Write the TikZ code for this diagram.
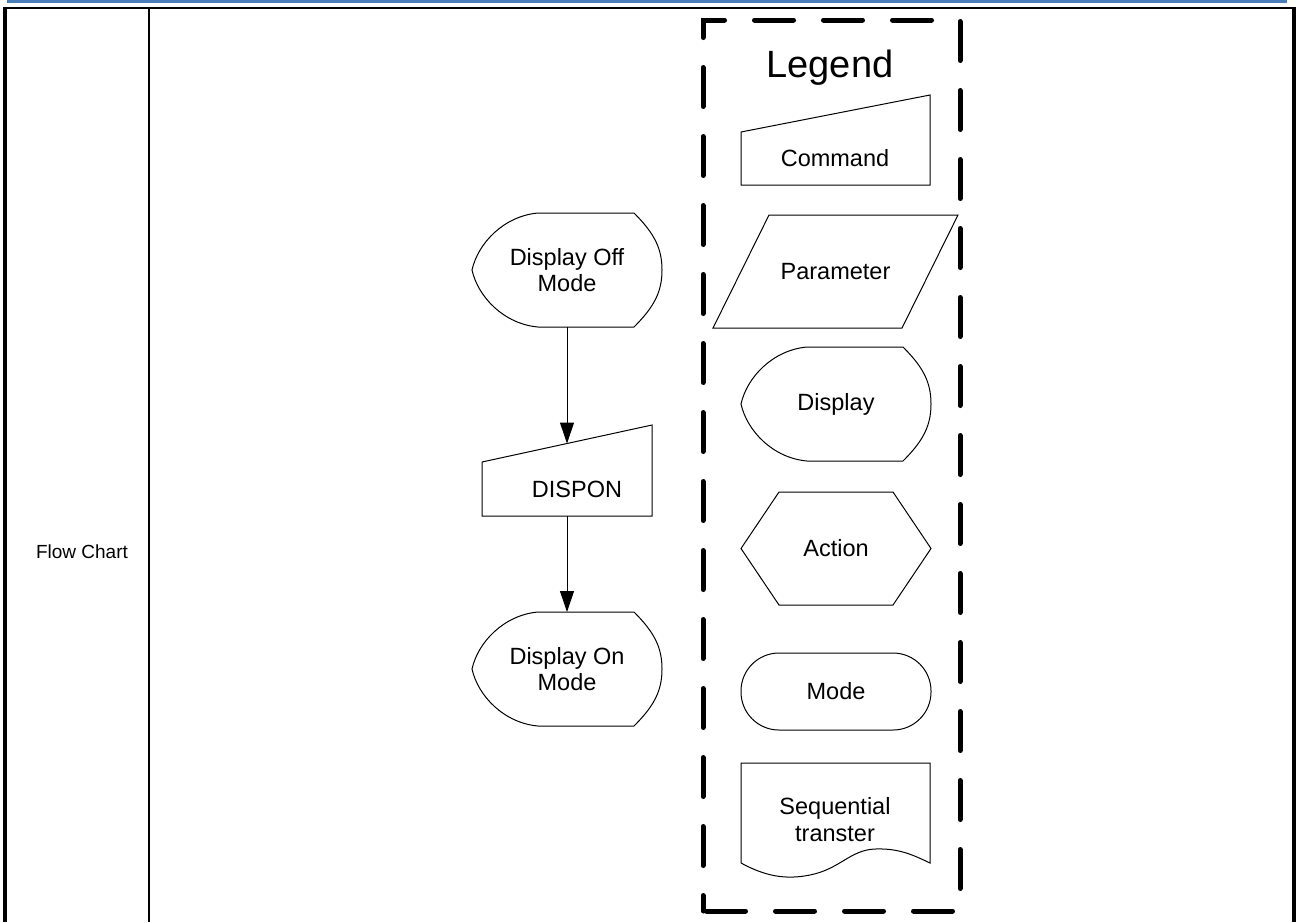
\documentclass[tikz,border=0pt]{standalone}
\usepackage{fontspec}
\setmainfont{Liberation Sans}
\usetikzlibrary{calc,arrows.meta}
\definecolor{hdrblue}{RGB}{74,126,187}
\tikzset{
  outl/.style={draw=black, line width=1pt, line join=miter},
  geo/.style={draw=none, inner sep=0pt, outer sep=0pt, minimum width=190pt,
              font=\fontsize{23.5}{26}\selectfont, align=center},
  lbl/.style={font=\fontsize{23.5}{27}\selectfont, align=center, inner sep=0pt},
  conn/.style={line width=1pt, -{Triangle[length=21pt,width=14pt]}},
  legendbox/.style={line width=5pt, line cap=round, dash pattern=on 39pt off 30pt, dash phase=23.5pt},
}
\newcommand\DispOutline[1]{%
  \draw[outl] ($(#1.north west)+(66,0)$) -- ($(#1.north east)+(-28,0)$)
    .. controls ($(#1.north east)+(-8,20)$) and ($(#1.east)+(0,-22)$) .. (#1.east)
    .. controls ($(#1.east)+(0,22)$) and ($(#1.south east)+(-8,-20)$) .. ($(#1.south east)+(-28,0)$)
    -- ($(#1.south west)+(66,0)$)
    .. controls ($(#1.south west)+(32,-3)$) and ($(#1.west)+(6,27)$) .. (#1.west)
    .. controls ($(#1.west)+(6,-27)$) and ($(#1.north west)+(32,3)$) .. cycle;}
\begin{document}
\begin{tikzpicture}[x=1pt,y=-1pt]
\useasboundingbox (0,0) rectangle (1297,922);
\fill[white] (0,0) rectangle (1297,922);

% header line and table
\draw[hdrblue, line width=2.7pt] (7,1.35) -- (1287,1.35);
\draw[line width=2pt] (3,8) -- (1296,8);
\draw[line width=4pt] (5,7) -- (5,922);
\draw[line width=2.3pt] (149,8) -- (149,922);
\draw[line width=4pt] (1294,7) -- (1294,922);
\node[font=\fontsize{19}{22}\selectfont, inner sep=0pt] (rowlabel) at (82,552) {Flow Chart};

% flow chart
\node[geo, minimum height=114pt] (off) at (567,270) {Display Off\\Mode};
\DispOutline{off}

\node[geo, minimum width=170pt, minimum height=91pt] (dispon) at (567,470.5) {};
\draw[outl] (dispon.south west) -- (dispon.south east) -- (dispon.north east)
  -- ($(dispon.north west)+(0,37)$) -- cycle;
\node[lbl, anchor=base] (dispontext) at (577,497) {DISPON};
\coordinate (disponin) at ($(dispon.north)+(0,18.5)$);

\node[geo, minimum height=114pt] (on) at (567,669) {Display On\\Mode};
\DispOutline{on}

\draw[conn] (off.south) -- (disponin);
\draw[conn] (dispon.south) -- (on.north);

% legend
\draw[legendbox] (703,911) -- (703,20) -- (960,20) -- (960,911) -- cycle;
\node[font=\fontsize{38}{44}\selectfont, anchor=base, inner sep=0pt] (legendtitle) at (830,77) {Legend};

\node[geo, minimum width=189pt, minimum height=90pt] (lcmd) at (835.5,140) {};
\draw[outl] (lcmd.south west) -- (lcmd.south east) -- (lcmd.north east)
  -- ($(lcmd.north west)+(0,37)$) -- cycle;
\node[lbl, anchor=base] (lcmdtext) at (835,166) {Command};

\node[geo, minimum width=245pt, minimum height=113pt] (lpar) at (835.5,271.5) {Parameter};
\draw[outl] ($(lpar.north west)+(56,0)$) -- (lpar.north east)
  -- ($(lpar.south east)+(-56,0)$) -- (lpar.south west) -- cycle;

\node[geo, minimum height=114pt] (ldisp) at (836,404) {Display};
\DispOutline{ldisp}

\node[geo, minimum height=113pt] (lact) at (836,548.5) {Action};
\draw[outl] (lact.west) -- ($(lact.north west)+(38,0)$) -- ($(lact.north east)+(-38,0)$)
  -- (lact.east) -- ($(lact.south east)+(-38,0)$) -- ($(lact.south west)+(38,0)$) -- cycle;

\node[geo, draw=black, line width=1pt, rounded corners=38pt, minimum height=77pt] (lmode) at (836,691.5) {Mode};

\node[geo, minimum width=189pt, minimum height=100pt] (lseq) at (835.5,813) {};
\draw[outl] (lseq.south west) -- (lseq.north west) -- (lseq.north east) -- (lseq.south east)
  .. controls ($(lseq.south west)+(174,-7)$) and ($(lseq.south west)+(159,-15)$) .. ($(lseq.south west)+(134,-14)$)
  .. controls ($(lseq.south west)+(109,-13)$) and ($(lseq.south west)+(99,6)$) .. ($(lseq.south west)+(69,12)$)
  .. controls ($(lseq.south west)+(44,17)$) and ($(lseq.south west)+(24,13)$) .. (lseq.south west);
\node[lbl] (lseqtext) at (835,820) {Sequential\\transter};
\end{tikzpicture}
\end{document}
